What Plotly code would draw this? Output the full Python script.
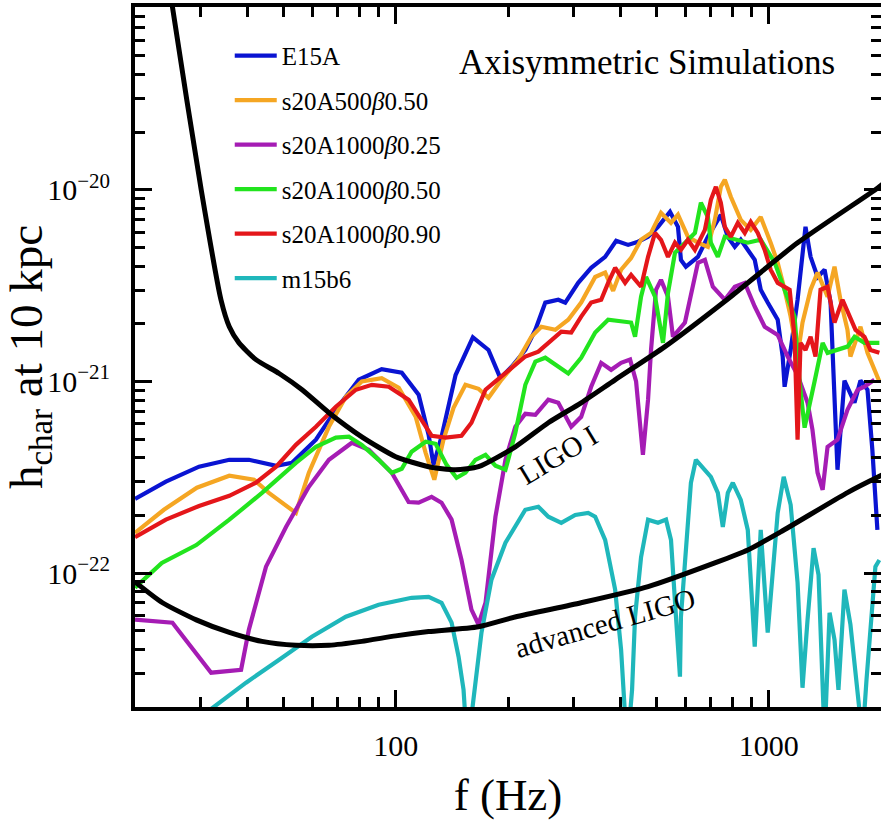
import math
import plotly.graph_objects as go

# ---------------- data (f in Hz, h_char at 10 kpc) ----------------
e15a_f = [20, 24.2, 29.7, 35.8, 40.4, 47.8, 52.7, 61.1, 69.1, 79.6, 91.7, 103.8, 115.2, 122.5, 126.3,
          132.7, 144.7, 161, 177.3, 190.8, 204.2, 222.6, 236.8, 251.8, 272.8, 284.8, 308.5, 334.2, 364.3,
          389.9, 419.8, 446.4, 474.8, 504.9, 543.7, 571.1, 581.7, 599.8, 645.9, 686.9, 744.1, 776.9, 811.1,
          841.6, 917.3, 951.9, 993.8, 1057, 1090, 1103, 1145, 1195, 1255, 1295, 1352, 1412, 1465, 1501,
          1529, 1596, 1698, 1762, 1840, 1896, 1956]
e15a_h = [2.44e-22, 3.0e-22, 3.59e-22, 3.90e-22, 3.90e-22, 3.63e-22, 3.76e-22, 4.97e-22, 7.12e-22, 1.02e-21,
          1.16e-21, 1.11e-21, 8.52e-22, 5.27e-22, 3.67e-22, 5.15e-22, 1.08e-21, 1.70e-21, 1.46e-21, 1.04e-21,
          1.19e-21, 1.46e-21, 1.86e-21, 2.58e-21, 2.67e-21, 2.58e-21, 3.27e-21, 3.92e-21, 4.47e-21, 5.42e-21,
          5.16e-21, 5.36e-21, 5.69e-21, 6.41e-21, 7.68e-21, 6.41e-21, 4.31e-21, 3.97e-21, 4.47e-21, 5.69e-21,
          7.40e-21, 5.69e-21, 5.04e-21, 5.49e-21, 4.31e-21, 3.01e-21, 2.58e-21, 2.10e-21, 1.35e-21, 9.38e-22,
          1.46e-21, 2.67e-21, 6.41e-21, 4.47e-21, 3.51e-21, 3.83e-21, 2.58e-21, 8.03e-22, 3.46e-22, 1.01e-21,
          7.75e-22, 1.01e-21, 9.05e-22, 4.40e-22, 1.68e-22]

s20a500b050_f = [20, 23.9, 29.3, 35.8, 41.7, 45.7, 54.0, 58.5, 66.2, 73.5, 81.1, 91.7, 101.9, 113.1, 120.3,
                 126.9, 134.3, 142.9, 153.8, 166.7, 177.3, 192.0, 213.2, 231.0, 245.7, 267.8, 290.1, 314.2,
                 342.6, 364.3, 382.7, 402.0, 427.6, 454.7, 483.6, 514.3, 547, 571.1, 607.3, 645.9, 686.9,
                 717.1, 744.1, 762.6, 791.3, 841.6, 895.0, 951.9, 1012, 1057, 1103, 1145, 1195, 1232, 1295,
                 1352, 1438, 1501, 1557, 1626, 1656, 1762, 1840, 1920, 1980]
s20a500b050_h = [1.62e-22, 2.14e-22, 2.79e-22, 3.22e-22, 3.07e-22, 2.62e-22, 2.06e-22, 3.34e-22, 5.80e-22,
                 8.32e-22, 1.0e-21, 1.04e-21, 9.27e-22, 6.54e-22, 4.24e-22, 3.07e-22, 4.97e-22, 7.29e-22,
                 9.6e-22, 9.16e-22, 8.22e-22, 1.02e-21, 1.30e-21, 1.71e-21, 1.93e-21, 1.86e-21, 2.10e-21,
                 2.58e-21, 3.51e-21, 3.70e-21, 2.97e-21, 3.83e-21, 4.41e-21, 5.49e-21, 5.96e-21, 7.59e-21,
                 6.72e-21, 7.42e-21, 5.69e-21, 5.30e-21, 5.04e-21, 6.97e-21, 1.037e-20, 1.13e-20, 9.2e-21,
                 6.97e-21, 6.18e-21, 7.22e-21, 5.30e-21, 4.16e-21, 3.01e-21, 2.18e-21, 1.35e-21, 2.03e-21,
                 3.01e-21, 3.70e-21, 2.77e-21, 3.97e-21, 2.67e-21, 1.86e-21, 1.35e-21, 1.93e-21, 1.41e-21,
                 1.15e-21, 1.0e-21]

s20a1000b025_f = [20, 25.2, 32.0, 38.5, 40.4, 44.9, 50.8, 58.5, 66.2, 76.3, 84.7, 97.6, 108.3, 115.2, 124.8,
                  132.7, 141.2, 150.1, 159.6, 166.7, 174.1, 185.1, 196.9, 209.3, 222.6, 236.8, 256.5, 272.8,
                  295.5, 314.2, 334.2, 355.5, 378, 402, 425, 441, 460, 474.8, 483.6, 498.7, 514.3, 537, 553.7,
                  596.2, 645.9, 674.3, 708.3, 762.6, 811.1, 862.6, 917.3, 975.6, 1057, 1124, 1195, 1271, 1310,
                  1352, 1395, 1438, 1529, 1626, 1730, 1806, 1920]
s20a1000b025_h = [5.71e-23, 5.51e-23, 3.02e-23, 3.13e-23, 5.07e-23, 1.08e-22, 1.74e-22, 2.82e-22, 3.90e-22,
                  4.79e-22, 4.40e-22, 3.34e-22, 2.35e-22, 2.33e-22, 2.50e-22, 2.33e-22, 1.90e-22, 1.17e-22,
                  6.44e-23, 5.39e-23, 7.0e-23, 1.97e-22, 3.90e-22, 5.80e-22, 6.78e-22, 6.70e-22, 8.03e-22,
                  7.75e-22, 5.80e-22, 6.54e-22, 9.38e-22, 1.25e-21, 1.15e-21, 1.25e-21, 1.30e-21, 1.0e-21,
                  4.14e-22, 8.03e-22, 1.46e-21, 3.01e-21, 3.39e-21, 2.77e-21, 1.71e-21, 2.03e-21, 4.16e-21,
                  4.31e-21, 3.12e-21, 2.67e-21, 3.12e-21, 3.27e-21, 2.46e-21, 1.93e-21, 1.75e-21, 1.35e-21,
                  1.08e-21, 7.75e-22, 5.60e-22, 3.34e-22, 2.72e-22, 4.56e-22, 4.97e-22, 7.12e-22, 9.05e-22,
                  9.38e-22, 1.02e-21]

s20a1000b050_f = [20, 23.6, 29.2, 35.8, 43.8, 54.0, 61.1, 69.1, 74.9, 81.1, 90.0, 97.6, 103.8, 110.3, 120.3,
                  127.9, 136.9, 145.6, 153.8, 163.6, 174.1, 185.1, 196.9, 209.3, 222.6, 236.8, 251.8, 272.8,
                  290.1, 314.2, 342.6, 371.1, 394.7, 427.6, 438.2, 454.7, 469, 495.7, 520.7, 537, 560.6, 596.2,
                  634.1, 657.9, 686.9, 699.7, 730.5, 762.6, 811.1, 878.7, 951.9, 1038, 1103, 1173, 1210, 1248,
                  1327, 1395, 1438, 1529, 1626, 1698, 1806, 1980]
s20a1000b050_h = [8.39e-23, 1.13e-22, 1.40e-22, 1.90e-22, 2.62e-22, 3.76e-22, 4.56e-22, 5.09e-22, 5.15e-22,
                  4.67e-22, 3.90e-22, 3.34e-22, 3.50e-22, 4.30e-22, 4.85e-22, 4.73e-22, 3.67e-22, 3.14e-22,
                  3.34e-22, 3.90e-22, 4.14e-22, 3.63e-22, 3.46e-22, 5.40e-22, 9.61e-22, 1.27e-21, 1.33e-21,
                  1.19e-21, 1.10e-21, 1.33e-21, 1.80e-21, 2.10e-21, 2.07e-21, 2.03e-21, 1.71e-21, 2.77e-21,
                  3.51e-21, 2.77e-21, 1.59e-21, 2.90e-21, 4.69e-21, 5.30e-21, 5.96e-21, 8.56e-21, 7.22e-21,
                  5.30e-21, 4.47e-21, 5.69e-21, 5.49e-21, 5.30e-21, 5.49e-21, 4.16e-21, 3.01e-21, 2.18e-21,
                  1.0e-21, 5.74e-22, 1.0e-21, 1.59e-21, 1.41e-21, 1.46e-21, 1.52e-21, 1.71e-21, 1.59e-21,
                  1.59e-21]

s20a1000b090_f = [20, 24.2, 29.7, 35.8, 42.2, 47.8, 54.0, 61.1, 69.1, 78.2, 86.3, 95.8, 108.3, 117.3, 124.8,
                  136.1, 150.1, 159.6, 166.7, 174.1, 185.1, 204.2, 222.6, 241.2, 261.3, 277.9, 295.5, 314.2,
                  334.2, 355.5, 371.1, 387.5, 412.1, 427.6, 454.7, 474.8, 495.7, 514.3, 537, 560.6, 581.7,
                  607.3, 634.1, 674.3, 699.7, 721.6, 744.1, 762.6, 791.3, 826.3, 862.6, 895, 934.5, 975.6,
                  1012, 1057, 1138, 1173, 1195, 1217, 1255, 1295, 1335, 1377, 1438, 1501, 1577, 1646, 1709,
                  1806, 1874, 1980]
s20a1000b090_h = [1.54e-22, 1.90e-22, 2.24e-22, 2.53e-22, 2.96e-22, 3.59e-22, 4.67e-22, 5.80e-22, 7.38e-22,
                  9.05e-22, 9.6e-22, 9.38e-22, 8.03e-22, 6.31e-22, 5.21e-22, 5.09e-22, 5.21e-22, 6.09e-22,
                  7.38e-22, 9.05e-22, 1.0e-21, 1.18e-21, 1.35e-21, 1.43e-21, 1.65e-21, 1.82e-21, 1.80e-21,
                  2.18e-21, 2.58e-21, 2.67e-21, 3.27e-21, 3.92e-21, 3.27e-21, 3.60e-21, 3.12e-21, 4.47e-21,
                  5.96e-21, 5.49e-21, 4.47e-21, 5.30e-21, 4.86e-21, 5.49e-21, 4.86e-21, 6.18e-21, 8.87e-21,
                  1.037e-20, 8.56e-21, 6.41e-21, 5.69e-21, 6.72e-21, 5.96e-21, 6.81e-21, 5.96e-21, 4.86e-21,
                  3.83e-21, 3.27e-21, 3.01e-21, 1.71e-21, 4.97e-22, 1.59e-21, 1.46e-21, 1.71e-21, 1.35e-21,
                  3.01e-21, 3.12e-21, 2.03e-21, 2.67e-21, 2.18e-21, 1.86e-21, 1.71e-21, 1.46e-21, 1.41e-21]

m15b6_f = [30.6, 39.7, 48.7, 59.6, 73.5, 90.0, 110.3, 122.5, 132.7, 141.2, 147.4, 152, 155.7, 161.6, 169.8,
           180.6, 196.9, 222.6, 241.2, 256.5, 277.9, 302.9, 328.1, 342.6, 364.3, 387.5, 402, 417.2, 430.2,
           438.2, 454.7, 474.8, 504.9, 530.5, 547, 564.1, 578.2, 581.7, 600, 618.6, 638, 674.3, 699.7, 730.5,
           753.3, 776.9, 801.3, 841.6, 878.7, 917.3, 951.9, 993.8, 1057, 1097, 1145, 1195, 1232, 1271, 1319,
           1360, 1412, 1456, 1501, 1538, 1596, 1656, 1730, 1784, 1829, 1886, 1932, 1980]
m15b6_h = [1.83e-23, 2.68e-23, 3.53e-23, 4.65e-23, 5.92e-23, 6.84e-23, 7.43e-23, 7.52e-23, 7.0e-23, 5.51e-23,
           3.66e-23, 2.46e-23, 1.2e-23, 2.19e-23, 4.89e-23, 9.24e-23, 1.44e-22, 2.14e-22, 2.22e-22, 1.97e-22,
           1.83e-22, 2.01e-22, 2.06e-22, 1.97e-22, 1.49e-22, 8.19e-23, 3.98e-23, 1.2e-23, 2.46e-23, 5.92e-23,
           1.21e-22, 1.90e-22, 1.83e-22, 1.90e-22, 1.49e-22, 5.92e-23, 2.88e-23, 5.92e-23, 1.32e-22, 2.96e-22,
           3.90e-22, 3.46e-22, 3.18e-22, 2.62e-22, 1.74e-22, 2.62e-22, 2.96e-22, 2.41e-22, 1.68e-22, 4.13e-23,
           1.68e-22, 4.89e-23, 2.06e-22, 3.18e-22, 2.27e-22, 8.91e-23, 2.52e-23, 5.71e-23, 1.35e-22, 9.8e-23,
           1.36e-23, 6.21e-23, 4.49e-23, 2.46e-23, 8.19e-23, 5.39e-23, 2.46e-23, 1.36e-23, 2.78e-23, 6.44e-23,
           1.08e-22, 1.17e-22]

ligo1_f = [24.7, 25.2, 30.1, 34.0, 35.8, 38.0, 42.2, 48.7, 56.1, 66.2, 81.1, 100, 122.5, 144.6, 166.7, 209.3,
           256.5, 314.2, 387.4, 527, 791, 1195, 1956, 2070]
ligo1_h = [1.25e-19, 9.0e-20, 1.0e-20, 2.67e-21, 1.93e-21, 1.59e-21, 1.30e-21, 1.10e-21, 9.05e-22, 6.87e-22,
           5.14e-22, 4.05e-22, 3.59e-22, 3.46e-22, 3.59e-22, 4.56e-22, 6.09e-22, 7.74e-22, 1.02e-21, 1.52e-21,
           2.77e-21, 5.29e-21, 1.02e-20, 1.11e-20]

adv_f = [20, 23.7, 29.2, 35.8, 43.8, 54.0, 66.2, 81.1, 100, 122.5, 166.7, 209, 314, 475, 717, 878.7, 1077,
         1626, 1968, 2050]
adv_h = [9.0e-23, 7.0e-23, 5.7e-23, 4.9e-23, 4.4e-23, 4.2e-23, 4.2e-23, 4.4e-23, 4.7e-23, 4.95e-23, 5.25e-23,
         5.9e-23, 7.0e-23, 8.5e-23, 1.13e-22, 1.32e-22, 1.64e-22, 2.63e-22, 3.18e-22, 3.3e-22]

series_names = ["E15A", "s20A500<i>β</i>0.50", "s20A1000<i>β</i>0.25", "s20A1000<i>β</i>0.50",
                "s20A1000<i>β</i>0.90", "m15b6"]
series_colors = ["#0a14d2", "#f5a623", "#a51cb4", "#22e41e", "#e4161a", "#1fb7bb"]
series_f = [e15a_f, s20a500b050_f, s20a1000b025_f, s20a1000b050_f, s20a1000b090_f, m15b6_f]
series_h = [e15a_h, s20a500b050_h, s20a1000b025_h, s20a1000b050_h, s20a1000b090_h, m15b6_h]

x_major = [100, 1000]
x_minor = [30, 40, 50, 60, 70, 80, 90, 200, 300, 400, 500, 600, 700, 800, 900]
y_major = [1e-22, 1e-21, 1e-20]
y_major_text = ["10<sup>−22</sup>", "10<sup>−21</sup>", "10<sup>−20</sup>"]
y_minor = [m * 10.0 ** e for e in (-23, -22, -21, -20) for m in range(2, 10)]

FONT = "Liberation Serif"

fig = go.Figure()
for name, f, h, c in zip(series_names, series_f, series_h, series_colors):
    fig.add_trace(go.Scatter(x=f, y=h, mode="lines", name=name, legendgroup=name,
                             line=dict(color=c, width=4.2)))
fig.add_trace(go.Scatter(x=ligo1_f, y=ligo1_h, mode="lines", showlegend=False,
                         line=dict(color="black", width=5, shape="spline", smoothing=0.6)))
fig.add_trace(go.Scatter(x=adv_f, y=adv_h, mode="lines", showlegend=False,
                         line=dict(color="black", width=5, shape="spline", smoothing=0.6)))
# carrier for the right-hand tick axis
fig.add_trace(go.Scatter(x=[100], y=[1e-21], yaxis="y2", mode="markers", showlegend=False,
                         marker=dict(opacity=0), hoverinfo="skip"))

yrange = [math.log10(2.0e-23), math.log10(9.0e-20)]
tick_common = dict(ticks="inside", tickcolor="black", tickwidth=3, ticklen=17, showgrid=False, zeroline=False)
minor_common = dict(ticks="inside", ticklen=10, tickwidth=3, tickcolor="black", showgrid=False)

fig.update_layout(
    width=881, height=820,
    margin=dict(l=135, r=0, t=7, b=113),
    paper_bgcolor="white", plot_bgcolor="white",
    font=dict(family=FONT, color="black"),
    showlegend=True,
    legend=dict(x=0.127, y=0.963, xanchor="left", yanchor="top", bgcolor="rgba(0,0,0,0)",
                font=dict(size=25, family=FONT), tracegroupgap=9, itemwidth=42, traceorder="grouped"),
    xaxis=dict(type="log", range=[math.log10(20), math.log10(2000)], showline=True, linewidth=4,
               linecolor="black", mirror="ticks", tickmode="array", tickvals=x_major,
               ticktext=[str(v) for v in x_major], tickfont=dict(size=30, family=FONT),
               ticklabelstandoff=9,
               minor=dict(tickmode="array", tickvals=x_minor, **minor_common),
               title=dict(text="f (Hz)", font=dict(size=45, family=FONT), standoff=22),
               **tick_common),
    yaxis=dict(type="log", range=yrange, showline=True, linewidth=4, linecolor="black", mirror=False,
               tickmode="array", tickvals=y_major, ticktext=y_major_text,
               tickfont=dict(size=30, family=FONT), ticklabelstandoff=15,
               minor=dict(tickmode="array", tickvals=y_minor, **minor_common),
               title=dict(text="h<sub>char</sub> at 10 kpc", font=dict(size=47, family=FONT), standoff=4),
               **tick_common),
    yaxis2=dict(type="log", range=yrange, overlaying="y", side="right", anchor="x", showline=False,
                showticklabels=False, tickmode="array", tickvals=y_major,
                minor=dict(tickmode="array", tickvals=y_minor, **minor_common), **tick_common),
    annotations=[
        dict(text="Axisymmetric Simulations", xref="paper", yref="paper", x=0.686, y=0.921,
             xanchor="center", yanchor="middle", showarrow=False, font=dict(size=35, family=FONT)),
        dict(text="LIGO I", xref="paper", yref="paper", x=0.567, y=0.36, textangle=-31,
             xanchor="center", yanchor="middle", showarrow=False, font=dict(size=29, family=FONT)),
        dict(text="advanced LIGO", xref="paper", yref="paper", x=0.630, y=0.12, textangle=-16,
             xanchor="center", yanchor="middle", showarrow=False, font=dict(size=29, family=FONT)),
    ],
)

fig.write_html("out.html")
